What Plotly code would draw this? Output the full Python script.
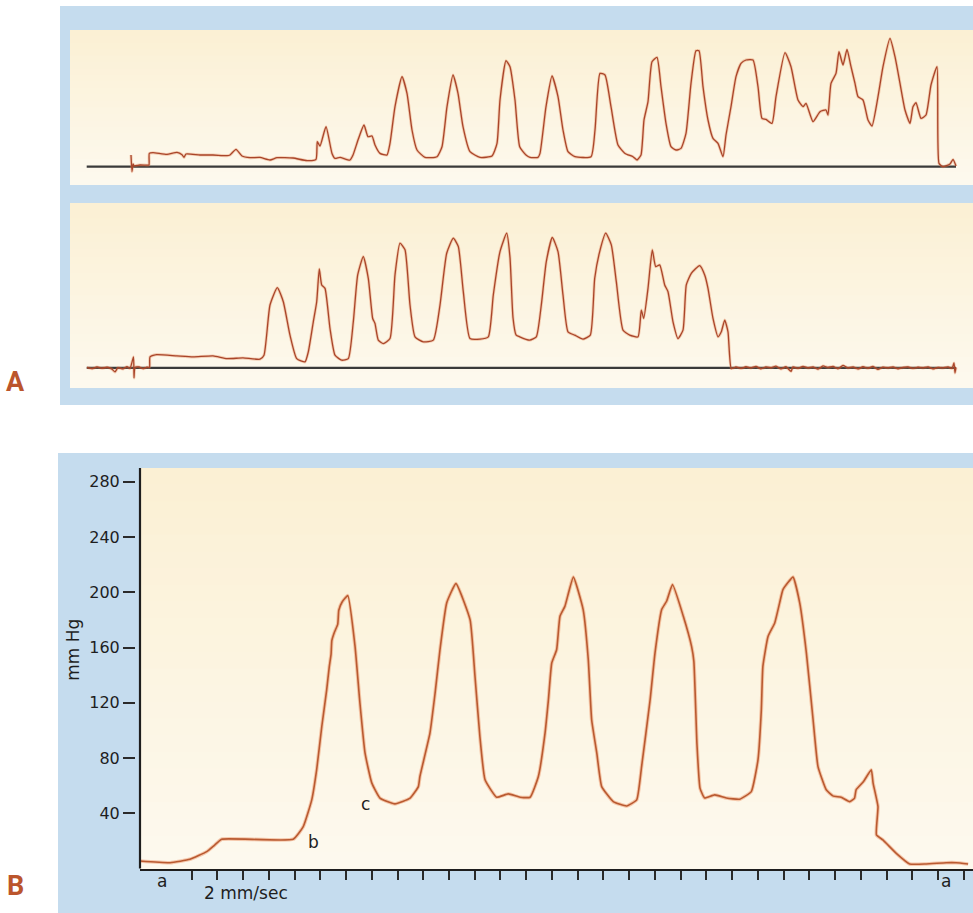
import plotly.graph_objects as go

# ---------------- Panel A (upper trace) : time (arbitrary units), pressure (arbitrary units)
a1_t = [6.1, 6.2, 6.3, 6.4, 7.0, 7.7, 7.9, 7.93, 8.3, 9.7, 10.7, 11.2, 11.4, 11.6, 13.0, 14.3, 15.7, 16.0,
        16.6, 17.2, 18.0, 19.0, 20.0, 20.7, 22.3, 23.7, 24.6, 24.73, 25.0, 25.6, 26.2, 26.5, 27.0, 28.0,
        28.3, 28.8, 29.4, 29.8, 30.2, 30.5, 31.0, 31.7, 32.0, 32.5, 33.2, 33.7, 34.2, 34.7, 35.5, 36.7,
        37.2, 37.7, 38.3, 38.8, 39.3, 40.0, 41.0, 42.2, 42.7, 43.0, 43.6, 44.0, 44.5, 44.97, 45.6, 46.0,
        46.8, 47.0, 47.6, 48.2, 48.8, 49.3, 49.8, 50.5, 52.1, 52.5, 53.0, 53.5, 54.1, 54.8, 55.5, 56.3,
        56.7, 57.1, 57.4, 57.8, 58.2, 58.7, 59.1, 59.6, 60.1, 60.6, 61.1, 61.6, 62.1, 62.6, 62.9, 63.3,
        63.8, 64.3, 64.8, 65.3, 65.6, 66.1, 66.6, 67.1, 67.6, 68.3, 68.8, 69.2, 69.6, 70.2, 70.6, 71.5,
        72.1, 72.8, 73.3, 73.6, 74.3, 75.0, 75.6, 75.8, 76.1, 76.6, 76.9, 77.3, 77.7, 78.1, 78.5, 78.8,
        79.3, 79.8, 80.2, 80.8, 81.3, 82.0, 82.5, 83.0, 83.5, 84.0, 84.3, 84.6, 85.1, 85.6, 86.1, 86.7,
        86.9, 87.3, 88.0, 88.3, 88.6]
a1_p = [11.7, -5, 2.7, 1.0, 1.7, 1.5, 1.7, 13.3, 14, 12.3, 14.3, 12, 9.3, 12.7, 11.7, 11.7, 11, 11.7,
        17.3, 10.7, 9, 9.3, 6.7, 9, 8.7, 6, 7.3, 25, 20.7, 40, 13.3, 8.3, 9.3, 6.7,
        11.7, 26.7, 41.7, 30, 30.7, 21.7, 13.3, 11.7, 23.3, 60, 90, 73.3, 36.7, 16.7, 9.3, 10,
        20, 60, 91.7, 73.3, 40, 15, 9.3, 10.7, 23.3, 66.7, 106, 100, 66.7, 20, 11.7, 9.3,
        9.3, 13.3, 60, 90.7, 70, 36.7, 15, 10, 10, 36.7, 93.3, 91.7, 60, 21.7, 13.3, 10,
        6.7, 11.7, 46.7, 65, 105, 109.3, 80, 43.3, 20, 16.7, 18.3, 33.3, 83.3, 116, 116, 80,
        46.7, 28.3, 23.3, 10, 31.7, 60, 90, 103.3, 106.7, 106.7, 80, 48.3, 47.3, 43.3, 70, 114,
        100, 66.7, 60, 63.3, 45, 55, 56.7, 51.7, 83.3, 93.3, 115, 101.7, 117.3, 100, 83.3, 70,
        66.7, 46.7, 40.7, 70, 100, 128.3, 110, 83.3, 56.7, 43.3, 60, 64, 48.3, 51.7, 81.7, 100,
        3.3, 0, 2.7, 7.3, 0.7]

# ---------------- Panel A (lower trace)
a2_t = [1.7, 2.2, 2.7, 3.2, 3.7, 4.2, 4.5, 4.8, 5.3, 5.7, 6.0, 6.35, 6.4, 6.5, 6.9, 7.3, 7.7, 7.95,
        8.0, 8.67, 10.7, 12.3, 14.3, 15.7, 17.3, 19.0, 19.4, 20.0, 20.73, 21.33, 22.0, 22.67, 23.5,
        23.83, 24.33, 24.67, 24.93, 25.17, 25.5, 26.0, 26.5, 27.17, 27.83, 28.33, 28.77, 29.33, 29.83,
        30.27, 30.5, 30.83, 31.33, 32.0, 32.5, 33.0, 33.5, 34.0, 34.5, 35.33, 36.33, 37.0, 37.67,
        38.33, 38.83, 39.33, 40.0, 41.0, 41.83, 42.33, 43.0, 43.67, 44.0, 44.3, 44.6, 44.97, 45.97,
        46.63, 47.13, 47.63, 48.23, 48.8, 49.3, 49.8, 50.47, 51.3, 52.03, 52.47, 52.97, 53.57, 54.13,
        54.63, 55.3, 55.97, 56.8, 57.13, 57.37, 57.8, 58.23, 58.57, 58.97, 59.47, 59.8, 60.3, 60.8,
        61.3, 61.63, 62.13, 62.97, 63.47, 63.8, 64.3, 64.8, 65.13, 65.47, 65.8, 66.13,
        66.6, 67.1, 67.6, 68.1, 68.6, 69.1, 69.6, 70.1, 70.6, 71.1, 71.6, 72.1, 72.3, 72.8, 73.3,
        73.8, 74.3, 74.8, 75.3, 75.8, 76.3, 76.8, 77.3, 77.8, 78.3, 78.8, 79.3, 79.8, 80.3, 80.8,
        81.3, 81.8, 82.3, 82.8, 83.3, 83.8, 84.3, 84.8, 85.3, 85.8, 86.3, 86.8, 87.3, 87.8, 88.2,
        88.4, 88.5, 88.6]
a2_p = [0.5, -0.7, 1, -0.3, 0.7, -1.2, -4, 0.3, -1, 1.3, -0.5, 11, -10, 0.5, 1, -0.7, 0.8, 0.5,
        11, 13.3, 12, 11, 12, 9.3, 10, 8.7, 12.7, 62.7, 80, 66, 32.7, 9.3, 6,
        16, 46, 66, 98.7, 82.7, 79.3, 39.3, 12.7, 7.7, 9.3, 46, 92.7, 111, 89.3,
        49.3, 44.3, 27.7, 24.3, 29.3, 92.7, 124.3, 117.7, 62.7, 31, 26, 27.7, 62.7, 114.3,
        129.3, 121, 76, 29.3, 28.7, 31, 72.7, 116, 134.3, 110, 50, 33, 31, 27.7,
        31, 62.7, 106, 130, 116, 72.7, 36, 32.7, 28.7, 32.7, 89.3, 116, 134.3, 122.7,
        86, 37.7, 32.7, 31, 57.7, 49.3, 79.3, 117.7, 101, 102.7, 82.7, 76, 46, 29.3,
        37.7, 82.7, 94.3, 102, 92.7, 79.3, 49.3, 31, 36, 47.7, 36, -0.7,
        1, -0.5, 1.2, 0, 1.5, -0.8, 1, 0.2, 1.8, -1, 1.2, -3.5, 1, -0.5, 1.5,
        0, 1, -1.2, 2, 0.5, 1.5, -0.8, 2.5, 0, 1, -1, 1.2, -0.3, 1.5, -1.5,
        0.8, 0, 1, -0.8, 0.5, 1, -0.5, 0.8, 0, 1, -1, 0.5, 0, 1, -0.5,
        5, -5, 0.5]

# zero (reference) line extent of panel A recordings
a_zero_t = [1.67, 88.6]
a_zero_p = [0, 0]

# ---------------- Panel B : time (chart divisions), pressure (mm Hg)
b_t = [0.00, 1.17, 1.94, 2.59, 2.90, 3.17, 5.95, 6.34, 6.67, 6.86, 7.06, 7.25, 7.35, 7.42, 7.45, 7.55,
       7.68, 7.72, 7.85, 8.07, 8.35, 8.54, 8.74, 9.00, 9.32, 9.90, 10.49, 10.81, 10.87, 11.26, 11.46,
       11.65, 11.91, 12.27, 12.82, 13.01, 13.20, 13.40, 13.85, 14.30, 14.76, 15.15, 15.47, 15.73,
       15.86, 15.99, 16.18, 16.31, 16.50, 16.83, 17.21, 17.41, 17.54, 17.74, 17.93, 18.38, 18.90,
       19.29, 19.48, 19.81, 20.00, 20.26, 20.45, 20.68, 21.10, 21.42, 21.51, 21.63, 21.75, 21.93,
       22.32, 22.77, 23.29, 23.74, 24.00, 24.13, 24.19, 24.39, 24.65, 24.84, 24.97, 25.36, 25.62,
       25.88, 26.14, 26.33, 26.65, 26.91, 27.23, 27.56, 27.75, 27.81, 28.10, 28.40, 28.47, 28.66,
       28.60, 28.85, 29.37, 29.89, 30.53, 31.31, 31.70, 32.16]
b_p = [5.4, 4.2, 6.7, 12.2, 17.0, 21.2, 21.2, 30.3, 49.7, 71.4, 102.8, 129.4, 146, 155, 165, 171,
       177, 187, 193, 197.6, 161, 120, 83.5, 62, 51, 46.8, 51, 59.3, 66.6, 98, 127,
       158.4, 192.3, 206.3, 180, 139, 95.6, 64.2, 51.6, 54, 51.6, 51.6, 66.6, 98,
       122, 148.8, 158.4, 182.6, 189.8, 211, 187.5, 151, 107.7, 83.5, 59.3, 48.4, 45.3,
       49.7, 73.8, 122, 156, 187.5, 193.5, 205.6, 182.6, 160.8, 150, 90, 58, 51,
       53.3, 51, 50.2, 55.7, 78.7, 115, 146.3, 168, 177.8, 192.3, 202, 211, 192.3,
       156, 107.7, 73.8, 57, 52.6, 51.6, 48.4, 51, 57, 63, 71.4, 61.8, 44.8,
       24.3, 20.7, 11, 3.3, 3.3, 4.2, 4.2, 3.3]

b_yticks = [40, 80, 120, 160, 200, 240, 280]
b_xticks = list(range(2, 33))

# letter labels on the panel B trace (data units)
b_marks = [("b", 6.73, 19.4), ("c", 8.74, 46.6)]
# labels under the time axis (x in data units, y in pixels from top)
b_under = [("a", 0.86, 881), ("a", 31.31, 881), ("2 mm/sec", 4.12, 893)]

W, H = 973, 913
BLUE = "#c5dcee"
CREAM_TOP = (251, 240, 212)
CREAM_BOT = (253, 249, 238)
LBL = "#bb552c"
FONT = "DejaVu Sans"
INK = "#1e1e1e"

fig = go.Figure()

halo_a = dict(color="rgba(226,128,80,0.35)", width=3.0, shape="spline", smoothing=0.5)
core_a = dict(color="#a9452a", width=1.3, shape="spline", smoothing=0.5)

# Panel A upper
fig.add_trace(go.Scatter(x=a_zero_t, y=a_zero_p, mode="lines", xaxis="x", yaxis="y",
                         line=dict(color="#3a3a3a", width=2.2), hoverinfo="skip"))
fig.add_trace(go.Scatter(x=a1_t, y=a1_p, mode="lines", xaxis="x", yaxis="y", line=halo_a, hoverinfo="skip"))
fig.add_trace(go.Scatter(x=a1_t, y=a1_p, mode="lines", xaxis="x", yaxis="y", line=core_a))
# Panel A lower
fig.add_trace(go.Scatter(x=a_zero_t, y=a_zero_p, mode="lines", xaxis="x2", yaxis="y2",
                         line=dict(color="#3a3a3a", width=2.2), hoverinfo="skip"))
fig.add_trace(go.Scatter(x=a2_t, y=a2_p, mode="lines", xaxis="x2", yaxis="y2", line=halo_a, hoverinfo="skip"))
fig.add_trace(go.Scatter(x=a2_t, y=a2_p, mode="lines", xaxis="x2", yaxis="y2", line=core_a))
# Panel B
fig.add_trace(go.Scatter(x=b_t, y=b_p, mode="lines", xaxis="x3", yaxis="y3",
                         line=dict(color="rgba(235,140,90,0.45)", width=3.6, shape="spline", smoothing=0.4),
                         hoverinfo="skip"))
fig.add_trace(go.Scatter(x=b_t, y=b_p, mode="lines", xaxis="x3", yaxis="y3",
                         line=dict(color="#b95a31", width=1.6, shape="spline", smoothing=0.4)))

hidden = dict(visible=False, showgrid=False, zeroline=False, fixedrange=True)

shapes = [
    # blue mounts
    dict(type="rect", xref="paper", yref="paper", x0=60 / W, x1=1, y0=1 - 405 / H, y1=1 - 6 / H,
         fillcolor=BLUE, line=dict(width=0), layer="below"),
    dict(type="rect", xref="paper", yref="paper", x0=58 / W, x1=1, y0=0, y1=1 - 453 / H,
         fillcolor=BLUE, line=dict(width=0), layer="below"),
]

# cream recording paper with a soft vertical fade (yellower at the top):
# nested rectangles all anchored at the bottom, so no seams appear between bands
NB = 24
for ax in ("x", "x2", "x3"):
    yax = {"x": "y", "x2": "y2", "x3": "y3"}[ax]
    for i in range(NB):
        f = 1 - i / (NB - 1)
        r, g, b = (round(CREAM_BOT[k] + (CREAM_TOP[k] - CREAM_BOT[k]) * f) for k in range(3))
        shapes.append(dict(type="rect", xref=f"{ax} domain", yref=f"{yax} domain",
                           x0=0, x1=1, y0=0, y1=1 - i / NB,
                           fillcolor=f"rgb({r},{g},{b})", line=dict(width=0), layer="below"))

# vertical axis line of panel B
shapes.append(dict(type="line", xref="x3 domain", yref="y3 domain", x0=0, x1=0, y0=0, y1=1,
                   line=dict(color=INK, width=2.2)))

annotations = []
for txt, xv, yv in b_marks:
    annotations.append(dict(text=txt, x=xv, y=yv, xref="x3", yref="y3", showarrow=False,
                            xanchor="center", yanchor="middle",
                            font=dict(family=FONT, size=17, color=INK)))
for txt, xv, py in b_under:
    annotations.append(dict(text=txt, x=xv, y=1 - py / H, xref="x3", yref="paper", showarrow=False,
                            xanchor="center", yanchor="middle",
                            font=dict(family=FONT, size=17, color=INK)))
annotations.append(dict(text="mm Hg", textangle=-90, x=73 / W, y=158.4, xref="paper", yref="y3",
                        xanchor="center", yanchor="middle",
                        showarrow=False, font=dict(family=FONT, size=17, color=INK)))
annotations.append(dict(text="<b>A</b>", x=15 / W, y=1 - 382 / H, xref="paper", yref="paper",
                        xanchor="center", yanchor="middle",
                        showarrow=False, font=dict(family="Roboto", size=27, color=LBL)))
annotations.append(dict(text="<b>B</b>", x=15 / W, y=1 - 886 / H, xref="paper", yref="paper",
                        xanchor="center", yanchor="middle",
                        showarrow=False, font=dict(family="Roboto", size=27, color=LBL)))

fig.update_layout(
    width=W, height=H, autosize=False,
    margin=dict(l=0, r=0, t=0, b=0),
    paper_bgcolor="white", plot_bgcolor="rgba(0,0,0,0)",
    showlegend=False,
    xaxis=dict(domain=[70 / W, 1], range=[0, 90.3], anchor="y", **hidden),
    yaxis=dict(domain=[1 - 185 / H, 1 - 30 / H], range=[-18.3, 136.7], anchor="x", **hidden),
    xaxis2=dict(domain=[70 / W, 1], range=[0, 90.3], anchor="y2", **hidden),
    yaxis2=dict(domain=[1 - 388 / H, 1 - 203 / H], range=[-20, 164.4], anchor="x2", **hidden),
    xaxis3=dict(domain=[140 / W, 1], range=[0, 32.35], anchor="y3", showline=True,
                linecolor=INK, linewidth=2.2, ticks="outside", ticklen=9, tickwidth=1.6,
                tickcolor="#2a2a2a", tickvals=b_xticks, showticklabels=False, showgrid=False,
                zeroline=False, fixedrange=True),
    yaxis3=dict(domain=[1 - 868.5 / H, 1 - 468 / H], range=[0, 290], anchor="free",
                position=135 / W, ticks="outside", ticklen=12, tickwidth=1.6, tickcolor="#2a2a2a",
                tickvals=b_yticks, tickfont=dict(family=FONT, size=16, color=INK),
                showline=False, showgrid=False, zeroline=False, fixedrange=True),
    shapes=shapes,
    annotations=annotations,
)

fig.write_html("out.html", config={"displayModeBar": False},
               post_script="document.body.style.margin='0';document.body.style.overflow='hidden';")
